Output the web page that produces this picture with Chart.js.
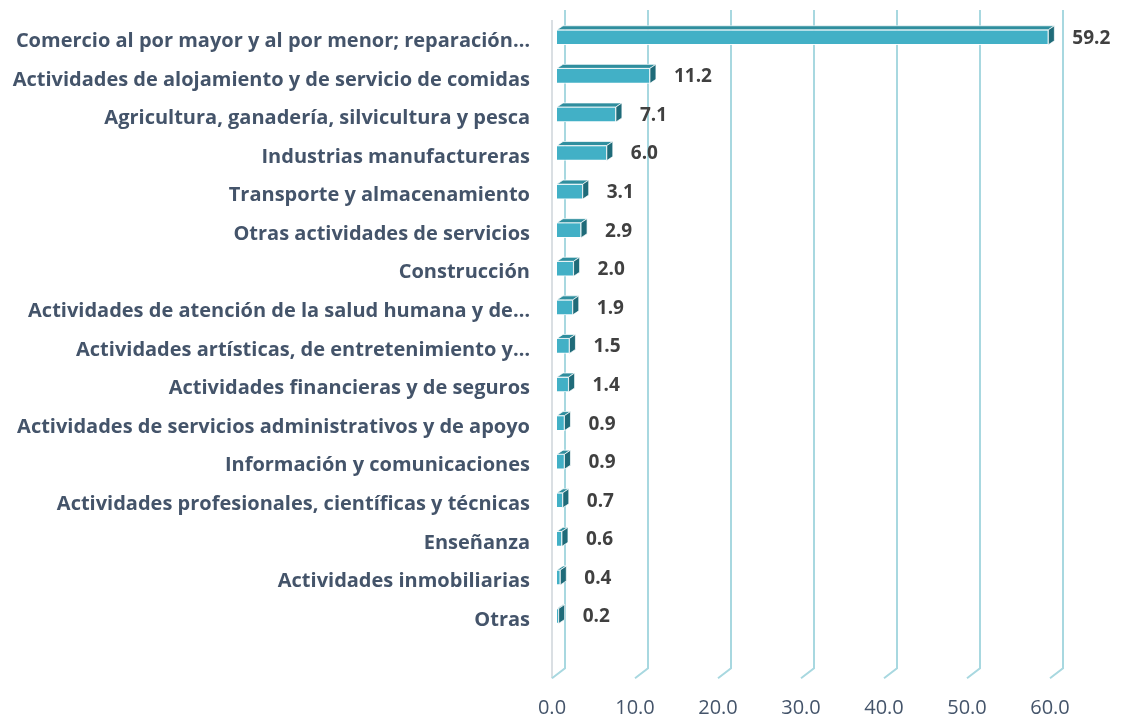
<!DOCTYPE html>
<html>
<head>
<meta charset="utf-8">
<script src="https://cdn.jsdelivr.net/npm/chart.js@4"></script>
<style>
  html, body { margin: 0; padding: 0; background: #fff; }
  #wrap { width: 1122px; height: 720px; }
</style>
</head>
<body>
<div id="wrap"><canvas id="chartSectores"></canvas></div>
<script>
const sectores = [
  "Comercio al por mayor y al por menor; reparación…",
  "Actividades de alojamiento y de servicio de comidas",
  "Agricultura, ganadería, silvicultura y pesca",
  "Industrias manufactureras",
  "Transporte y almacenamiento",
  "Otras actividades de servicios",
  "Construcción",
  "Actividades de atención de la salud humana y de…",
  "Actividades artísticas, de entretenimiento y…",
  "Actividades financieras y de seguros",
  "Actividades de servicios administrativos y de apoyo",
  "Información y comunicaciones",
  "Actividades profesionales, científicas y técnicas",
  "Enseñanza",
  "Actividades inmobiliarias",
  "Otras"
];
const porcentajes = [59.2, 11.2, 7.1, 6.0, 3.1, 2.9, 2.0, 1.9, 1.5, 1.4, 0.9, 0.9, 0.7, 0.6, 0.4, 0.2];
const ejeX = { min: 0, max: 60, paso: 10 };

// 3D look: back wall offset, bar shift and bar depth
const FONDO_DX = 13, FONDO_DY = 10;
const BARRA_SHIFT_X = 5, BARRA_SHIFT_Y = -4;
const BARRA_DX = 6, BARRA_DY = 4;

const efecto3D = {
  id: "efecto3D",
  beforeDatasetsDraw(chart) {
    const { ctx, chartArea, scales: { x } } = chart;
    const top = chartArea.top - 12;
    const bottom = chartArea.bottom + 29;
    ctx.save();
    // left wall edge
    ctx.strokeStyle = "#DADFE3";
    ctx.lineWidth = 2;
    ctx.beginPath();
    ctx.moveTo(x.getPixelForValue(0), chartArea.top - 2);
    ctx.lineTo(x.getPixelForValue(0), bottom + FONDO_DY);
    ctx.stroke();
    // gridlines on back wall + floor
    ctx.strokeStyle = "#A8D8E0";
    ctx.lineWidth = 2;
    for (let v = ejeX.min; v <= ejeX.max; v += ejeX.paso) {
      const px = x.getPixelForValue(v);
      ctx.beginPath();
      ctx.moveTo(px + FONDO_DX, top);
      ctx.lineTo(px + FONDO_DX, bottom);
      ctx.lineTo(px, bottom + FONDO_DY);
      ctx.stroke();
    }
    ctx.restore();
    ctx.save();
    ctx.translate(BARRA_SHIFT_X, BARRA_SHIFT_Y);
  },
  afterDatasetsDraw(chart) {
    const { ctx } = chart;
    const meta = chart.getDatasetMeta(0);
    meta.data.forEach((bar) => {
      const { x, y, base, height } = bar.getProps(["x", "y", "base", "height"], true);
      const y0 = y - height / 2, y1 = y + height / 2;
      ctx.lineWidth = 0.8;
      ctx.strokeStyle = "rgba(255,255,255,0.9)";
      // top face
      ctx.fillStyle = "#2F8E9E";
      ctx.beginPath();
      ctx.moveTo(base, y0);
      ctx.lineTo(x, y0);
      ctx.lineTo(x + BARRA_DX, y0 - BARRA_DY);
      ctx.lineTo(base + BARRA_DX, y0 - BARRA_DY);
      ctx.closePath();
      ctx.fill();
      ctx.stroke();
      // side face
      ctx.fillStyle = "#1F6B79";
      ctx.beginPath();
      ctx.moveTo(x, y0);
      ctx.lineTo(x + BARRA_DX, y0 - BARRA_DY);
      ctx.lineTo(x + BARRA_DX, y1 - BARRA_DY);
      ctx.lineTo(x, y1);
      ctx.closePath();
      ctx.fill();
      ctx.stroke();
    });
    ctx.restore();
    // value labels
    ctx.save();
    ctx.font = "bold 19px 'Open Sans'";
    ctx.fillStyle = "#404040";
    ctx.textBaseline = "middle";
    ctx.textAlign = "left";
    meta.data.forEach((bar, i) => {
      const { x, y } = bar.getProps(["x", "y"], true);
      ctx.fillText(porcentajes[i].toFixed(1), x + BARRA_SHIFT_X + BARRA_DX + 18, y - 3);
    });
    ctx.restore();
  }
};

document.addEventListener("DOMContentLoaded", () => {
  new Chart(document.querySelector("#chartSectores"), {
    type: "bar",
    data: {
      labels: sectores,
      datasets: [
        {
          label: "Participación (%)",
          data: porcentajes,
          backgroundColor: "#42B0C6",
          borderColor: "rgba(255,255,255,0.9)",
          borderWidth: 1,
          barThickness: 15,
        },
      ],
    },
    options: {
      indexAxis: "y",
      responsive: true,
      maintainAspectRatio: false,
      animation: false,
      layout: { padding: { top: 22, right: 72, left: 0, bottom: 0 } },
      scales: {
        x: {
          min: ejeX.min,
          max: ejeX.max,
          grid: { display: false, drawTicks: false },
          border: { display: false },
          ticks: {
            stepSize: ejeX.paso,
            padding: 57,
            maxRotation: 0,
            color: "#44546A",
            font: { family: "Open Sans", size: 20 },
            callback: (v) => Number(v).toFixed(1),
          },
          afterFit: (scale) => {
            scale.height = 80.7;
            scale.paddingLeft = 0;
            scale.paddingRight = 0;
          },
        },
        y: {
          grid: { display: false, drawTicks: false },
          border: { display: false },
          ticks: {
            padding: 22,
            color: "#44546A",
            font: { family: "Open Sans", size: 20, weight: "bold" },
            autoSkip: false,
          },
          afterFit: (scale) => {
            scale.width = 552;
            scale.paddingTop = 0;
            scale.paddingBottom = 0;
          },
        },
      },
      plugins: {
        legend: { display: false },
        tooltip: { enabled: false },
      },
    },
    plugins: [efecto3D],
  });
});
</script>
</body>
</html>
